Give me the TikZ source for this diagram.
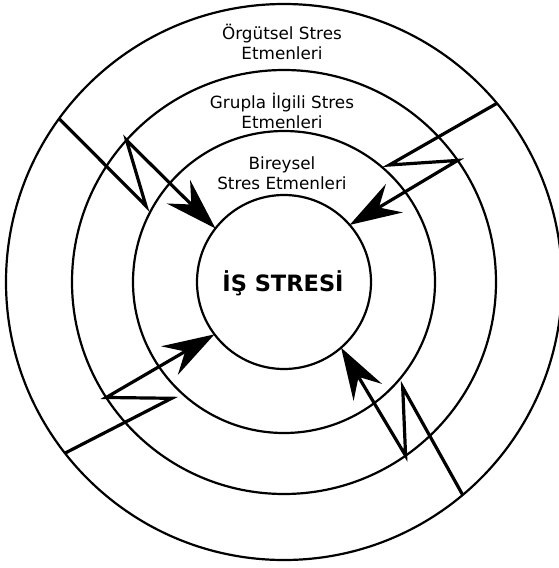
\documentclass[tikz,border=0pt]{standalone}
\usepackage{fontspec}
\setmainfont{DejaVu Sans}
\usetikzlibrary{arrows.meta}
\begin{document}
\begin{tikzpicture}[x=1pt,y=-1pt,
  ring/.style={draw, circle, line width=2.2pt, inner sep=0pt, outer sep=0pt},
  ringlabel/.style={align=center, font=\fontsize{16.8}{20}\selectfont, inner sep=0pt},
  bolt/.style={line width=3.2pt, line join=miter, miter limit=6,
    -{Stealth[length=52pt,width=33pt,inset=18pt]}}
]
\useasboundingbox (0,0) rectangle (558,568);
\coordinate (ctr) at (284,282);

% concentric rings of stress factors
\node[ring, minimum size=556pt] (org) at (ctr) {};
\node[ring, minimum size=424pt] (grp) at (ctr) {};
\node[ring, minimum size=302pt] (ind) at (ctr) {};
\node[ring, minimum size=174pt] (core) at (ctr) {};

% labels
\node[font=\bfseries\fontsize{22.5}{26}\selectfont, inner sep=0pt] (corelabel) at (283,283) {İŞ STRESİ};
\node[ringlabel] (orglabel) at (282,41.5) {Örgütsel Stres\\Etmenleri};
\node[ringlabel] (grplabel) at (282,111.3) {Grupla İlgili Stres\\Etmenleri};
\node[ringlabel] (indlabel) at (282,173) {Bireysel\\Stres Etmenleri};

% zigzag arrows from the outer ring to the core
\coordinate (k1) at (146,206);
\coordinate (k2) at (389.3,165);
\coordinate (k3) at (171.7,398.3);
\coordinate (k4) at (402.7,387.3);

\draw[bolt] (org.144.3) -- (k1) -- (grp.138.9) -- (core.142.1);
\draw[bolt] (org.40.35) -- (k2) -- (grp.35.5) -- (core.41.05);
\draw[bolt] (org.218.7) -- (k3) -- (grp.213.7) -- (core.217.7);
\draw[bolt] (org.310.6) -- (k4) -- (grp.305.5) -- (core.311.7);
\end{tikzpicture}
\end{document}
